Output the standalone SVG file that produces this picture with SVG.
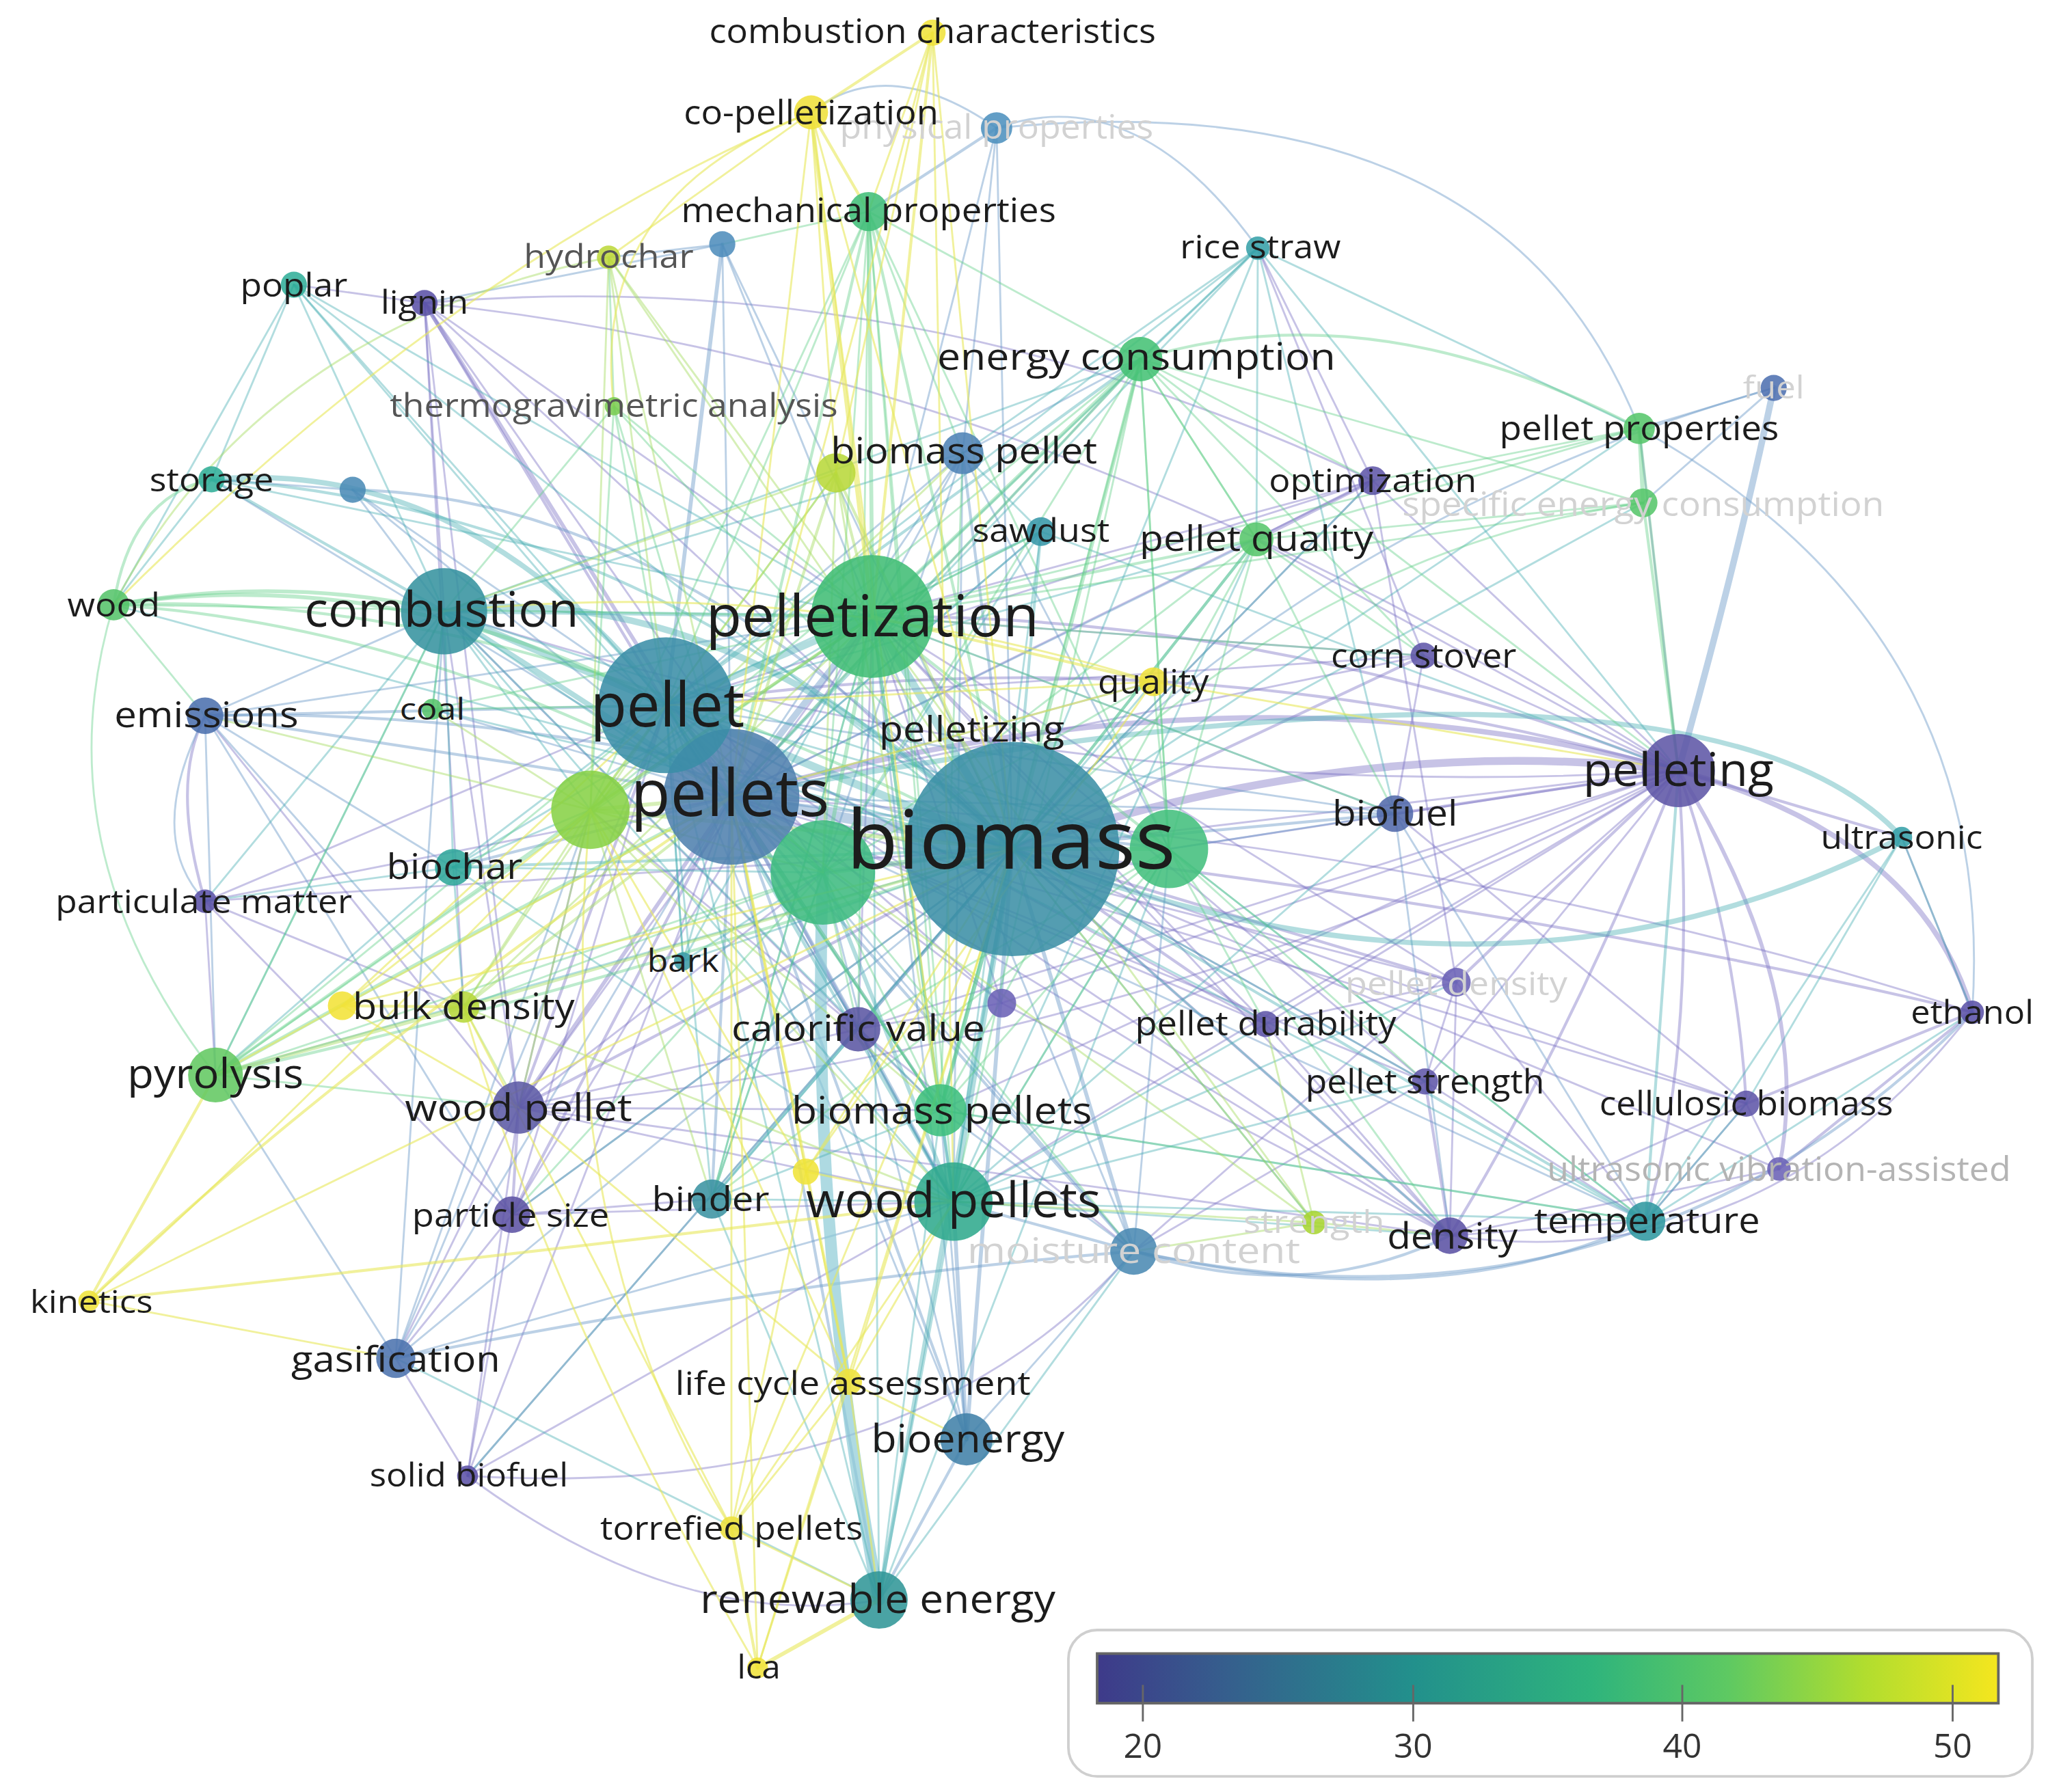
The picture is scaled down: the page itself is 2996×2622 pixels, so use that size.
<svg xmlns="http://www.w3.org/2000/svg" width="2996" height="2622" viewBox="0 0 2996 2622">
<defs>
<style>
text{font-family:"Open Sans","Noto Sans","DejaVu Sans",sans-serif;fill:#1c1c1c;text-anchor:middle}
.m{fill:#555}
.f{fill:#b4b4b4}
.ff{fill:#d2d2d2}
.lg{fill:#333;font-size:26px}
#edges line,#edges path{fill:none;stroke-linecap:round}
.p{stroke:#7a6fc4;stroke-opacity:.42}
.b{stroke:#6a98c8;stroke-opacity:.45}
.t{stroke:#48adb3;stroke-opacity:.42}
.g{stroke:#62cf88;stroke-opacity:.42}
.l{stroke:#a4dc60;stroke-opacity:.45}
.y{stroke:#e8e85a;stroke-opacity:.6}
.w2{stroke-width:2.2}.w3{stroke-width:3}.w4{stroke-width:4}.w5{stroke-width:5}.w6{stroke-width:6}.w7{stroke-width:9}.w8{stroke-width:8}
.pt{stroke:#8ccad6;stroke-opacity:.7}
#nodes circle{fill-opacity:.87}
</style>
<linearGradient id="vir" x1="0" y1="0" x2="1" y2="0">
<stop offset="0" stop-color="#3e3a8a"/>
<stop offset="0.15" stop-color="#35608d"/>
<stop offset="0.35" stop-color="#22908c"/>
<stop offset="0.55" stop-color="#2fb47c"/>
<stop offset="0.7" stop-color="#5ec962"/>
<stop offset="0.85" stop-color="#b0dd2f"/>
<stop offset="1" stop-color="#f5e61e"/>
</linearGradient>
</defs>
<rect width="2996" height="2622" fill="#ffffff"/>
<g transform="scale(1.91071 1.91108)">
<g id="edges" stroke-width="1.5">
<!-- purple -->
<path d="M1285 590Q1040 560 775 650" class="p w6"/>
<path d="M1285 590Q950 500 560 610" class="p w4"/>
<path d="M1285 590Q900 480 510 540" class="p w2"/>
<path d="M1285 590Q980 470 668 472" class="p w2"/>
<path d="M1285 590Q1470 640 1510 775" class="p w4"/>
<path d="M1285 590Q1390 760 1362 895" class="p w3"/>
<path d="M1285 590Q1330 720 1337 845" class="p w2"/>
<path d="M1285 590Q1300 800 1260 935" class="p w2"/>
<path d="M1285 590Q1200 800 1110 946" class="p w2"/>
<line x1="1285" y1="590" x2="1090" y2="502" class="p"/>
<line x1="1285" y1="590" x2="1068" y2="623" class="p w2"/>
<line x1="1285" y1="590" x2="1115" y2="752" class="p w2"/>
<line x1="1285" y1="590" x2="1091" y2="828" class="p"/>
<line x1="1285" y1="590" x2="969" y2="784" class="p"/>
<line x1="1285" y1="590" x2="1051" y2="368" class="p"/>
<line x1="1285" y1="590" x2="962" y2="413" class="p"/>
<line x1="1285" y1="590" x2="1255" y2="328" class="p"/>
<line x1="1285" y1="590" x2="895" y2="650" class="p"/>
<line x1="1285" y1="590" x2="630" y2="668" class="p"/>
<path d="M1285 590Q800 620 340 468" class="p"/>
<path d="M1285 590Q900 800 397 848" class="p"/>
<line x1="1285" y1="590" x2="868" y2="958" class="p"/>
<line x1="1285" y1="590" x2="730" y2="920" class="p"/>
<line x1="1285" y1="590" x2="720" y2="850" class="p"/>
<line x1="1285" y1="590" x2="767" y2="768" class="p"/>
<line x1="1285" y1="590" x2="1456" y2="641" class="p w2"/>
<line x1="1285" y1="590" x2="657" y2="788" class="p"/>
<path d="M325 232Q430 400 560 610" class="p w3"/>
<line x1="325" y1="232" x2="510" y2="540" class="p w2"/>
<line x1="325" y1="232" x2="775" y2="650" class="p"/>
<line x1="325" y1="232" x2="340" y2="468" class="p"/>
<line x1="325" y1="232" x2="668" y2="472" class="p"/>
<line x1="325" y1="232" x2="225" y2="218" class="p"/>
<line x1="325" y1="232" x2="397" y2="848" class="p"/>
<path d="M325 232Q700 200 1051 368" class="p"/>
<path d="M325 232Q800 280 1285 590" class="p"/>
<line x1="325" y1="232" x2="355" y2="771" class="p"/>
<line x1="325" y1="232" x2="630" y2="668" class="p"/>
<line x1="397" y1="848" x2="560" y2="610" class="p w3"/>
<line x1="397" y1="848" x2="775" y2="650" class="p w2"/>
<line x1="397" y1="848" x2="510" y2="540" class="p w2"/>
<line x1="397" y1="848" x2="730" y2="920" class="p"/>
<line x1="397" y1="848" x2="720" y2="850" class="p"/>
<line x1="397" y1="848" x2="392" y2="930" class="p w2"/>
<line x1="397" y1="848" x2="303" y2="1040" class="p"/>
<line x1="397" y1="848" x2="358" y2="1130" class="p"/>
<line x1="397" y1="848" x2="630" y2="668" class="p"/>
<line x1="397" y1="848" x2="340" y2="468" class="p"/>
<line x1="397" y1="848" x2="157" y2="548" class="p"/>
<line x1="397" y1="848" x2="1110" y2="946" class="p"/>
<line x1="397" y1="848" x2="452" y2="620" class="p"/>
<line x1="397" y1="848" x2="668" y2="472" class="p"/>
<line x1="397" y1="848" x2="657" y2="788" class="p"/>
<line x1="392" y1="930" x2="775" y2="650" class="p"/>
<line x1="392" y1="930" x2="560" y2="610" class="p w2"/>
<line x1="392" y1="930" x2="545" y2="918" class="p"/>
<line x1="392" y1="930" x2="730" y2="920" class="p"/>
<line x1="392" y1="930" x2="303" y2="1040" class="p"/>
<line x1="392" y1="930" x2="358" y2="1130" class="p"/>
<line x1="392" y1="930" x2="510" y2="540" class="p"/>
<line x1="392" y1="930" x2="157" y2="690" class="p"/>
<line x1="392" y1="930" x2="668" y2="472" class="p"/>
<line x1="358" y1="1130" x2="775" y2="650" class="p"/>
<line x1="358" y1="1130" x2="560" y2="610" class="p"/>
<line x1="358" y1="1130" x2="730" y2="920" class="p"/>
<line x1="358" y1="1130" x2="303" y2="1040" class="p"/>
<path d="M358 1130Q520 1250 673 1225" class="p"/>
<path d="M358 1130Q700 1150 868 958" class="p"/>
<line x1="157" y1="690" x2="560" y2="610" class="p"/>
<line x1="157" y1="690" x2="775" y2="650" class="p"/>
<path d="M157 690Q130 600 157 548" class="p w2"/>
<line x1="157" y1="690" x2="165" y2="823" class="p"/>
<line x1="157" y1="690" x2="355" y2="771" class="p"/>
<line x1="157" y1="690" x2="510" y2="540" class="p"/>
<line x1="657" y1="788" x2="775" y2="650" class="p w2"/>
<line x1="657" y1="788" x2="560" y2="610" class="p w2"/>
<line x1="657" y1="788" x2="510" y2="540" class="p"/>
<line x1="657" y1="788" x2="668" y2="472" class="p"/>
<line x1="657" y1="788" x2="720" y2="850" class="p"/>
<line x1="657" y1="788" x2="730" y2="920" class="p"/>
<line x1="657" y1="788" x2="767" y2="768" class="p"/>
<line x1="657" y1="788" x2="868" y2="958" class="p"/>
<line x1="657" y1="788" x2="452" y2="620" class="p"/>
<line x1="657" y1="788" x2="340" y2="468" class="p"/>
<line x1="767" y1="768" x2="560" y2="610" class="p"/>
<line x1="767" y1="768" x2="668" y2="472" class="p"/>
<line x1="767" y1="768" x2="1110" y2="946" class="p"/>
<line x1="767" y1="768" x2="510" y2="540" class="p"/>
<line x1="1110" y1="946" x2="775" y2="650" class="p w2"/>
<line x1="1110" y1="946" x2="560" y2="610" class="p"/>
<line x1="1110" y1="946" x2="510" y2="540" class="p"/>
<line x1="1110" y1="946" x2="1260" y2="935" class="p"/>
<line x1="1110" y1="946" x2="1091" y2="828" class="p w2"/>
<line x1="1110" y1="946" x2="1115" y2="752" class="p"/>
<line x1="1110" y1="946" x2="1337" y2="845" class="p"/>
<line x1="1110" y1="946" x2="1362" y2="895" class="p"/>
<line x1="1110" y1="946" x2="969" y2="784" class="p"/>
<line x1="1110" y1="946" x2="668" y2="472" class="p"/>
<path d="M1110 946Q1350 980 1510 775" class="p"/>
<line x1="1362" y1="895" x2="1337" y2="845" class="p"/>
<line x1="1362" y1="895" x2="1260" y2="935" class="p"/>
<line x1="1362" y1="895" x2="775" y2="650" class="p"/>
<line x1="1362" y1="895" x2="1510" y2="775" class="p w2"/>
<line x1="1337" y1="845" x2="775" y2="650" class="p"/>
<line x1="1337" y1="845" x2="1510" y2="775" class="p w2"/>
<line x1="1337" y1="845" x2="1068" y2="623" class="p"/>
<line x1="1337" y1="845" x2="1260" y2="935" class="p"/>
<line x1="1337" y1="845" x2="560" y2="610" class="p"/>
<path d="M1510 775Q1200 700 775 650" class="p w2"/>
<path d="M1510 775Q1100 640 560 610" class="p"/>
<line x1="1510" y1="775" x2="1456" y2="641" class="p"/>
<line x1="1090" y1="502" x2="775" y2="650" class="p w2"/>
<line x1="1090" y1="502" x2="668" y2="472" class="p"/>
<line x1="1090" y1="502" x2="560" y2="610" class="p"/>
<line x1="1090" y1="502" x2="1068" y2="623" class="p"/>
<line x1="1090" y1="502" x2="963" y2="190" class="p"/>
<line x1="1090" y1="502" x2="510" y2="540" class="p"/>
<line x1="1051" y1="368" x2="775" y2="650" class="p"/>
<line x1="1051" y1="368" x2="668" y2="472" class="p"/>
<line x1="1051" y1="368" x2="962" y2="413" class="p w3"/>
<line x1="1051" y1="368" x2="560" y2="610" class="p"/>
<line x1="1051" y1="368" x2="963" y2="190" class="p"/>
<line x1="1051" y1="368" x2="1115" y2="752" class="p"/>
<line x1="1051" y1="368" x2="510" y2="540" class="p"/>
<line x1="1115" y1="752" x2="775" y2="650" class="p w2"/>
<line x1="1115" y1="752" x2="560" y2="610" class="p"/>
<line x1="1115" y1="752" x2="1091" y2="828" class="p"/>
<line x1="1115" y1="752" x2="969" y2="784" class="p"/>
<line x1="1115" y1="752" x2="1260" y2="935" class="p"/>
<line x1="1115" y1="752" x2="668" y2="472" class="p"/>
<line x1="969" y1="784" x2="775" y2="650" class="p w2"/>
<line x1="969" y1="784" x2="560" y2="610" class="p"/>
<line x1="969" y1="784" x2="668" y2="472" class="p"/>
<line x1="969" y1="784" x2="510" y2="540" class="p"/>
<line x1="1091" y1="828" x2="775" y2="650" class="p"/>
<line x1="1091" y1="828" x2="560" y2="610" class="p"/>
<line x1="1091" y1="828" x2="1260" y2="935" class="p"/>
<line x1="1091" y1="828" x2="868" y2="958" class="p"/>
<line x1="1091" y1="828" x2="668" y2="472" class="p"/>
<!-- blue -->
<path d="M1358 297Q1330 430 1285 590" class="b w5"/>
<line x1="1358" y1="297" x2="1255" y2="328" class="b"/>
<line x1="1358" y1="297" x2="1258" y2="385" class="b"/>
<path d="M1358 297Q1000 400 775 650" class="b"/>
<path d="M1255 328Q1530 480 1510 775" class="b"/>
<line x1="560" y1="610" x2="775" y2="650" class="b w8"/>
<line x1="560" y1="610" x2="668" y2="472" class="b w5"/>
<line x1="560" y1="610" x2="730" y2="920" class="b w3"/>
<line x1="560" y1="610" x2="720" y2="850" class="b w2"/>
<line x1="560" y1="610" x2="157" y2="548" class="b w2"/>
<line x1="560" y1="610" x2="873" y2="275" class="b"/>
<line x1="560" y1="610" x2="895" y2="650" class="b w2"/>
<line x1="560" y1="610" x2="737" y2="347" class="b"/>
<line x1="560" y1="610" x2="303" y2="1040" class="b"/>
<line x1="560" y1="610" x2="868" y2="958" class="b w2"/>
<line x1="560" y1="610" x2="883" y2="522" class="b"/>
<line x1="560" y1="610" x2="962" y2="413" class="b"/>
<line x1="560" y1="610" x2="797" y2="407" class="b"/>
<line x1="560" y1="610" x2="1068" y2="623" class="b"/>
<line x1="560" y1="610" x2="673" y2="1225" class="b w2"/>
<line x1="560" y1="610" x2="740" y2="1102" class="b w2"/>
<line x1="560" y1="610" x2="545" y2="918" class="b w2"/>
<line x1="560" y1="610" x2="347" y2="664" class="b w2"/>
<line x1="560" y1="610" x2="331" y2="543" class="b"/>
<line x1="560" y1="610" x2="162" y2="367" class="b"/>
<line x1="560" y1="610" x2="1260" y2="935" class="b"/>
<line x1="157" y1="548" x2="510" y2="540" class="b w2"/>
<path d="M157 548Q460 540 775 650" class="b w2"/>
<line x1="157" y1="548" x2="340" y2="468" class="b"/>
<line x1="157" y1="548" x2="165" y2="823" class="b"/>
<line x1="157" y1="548" x2="347" y2="664" class="b"/>
<line x1="157" y1="548" x2="355" y2="771" class="b"/>
<line x1="157" y1="548" x2="392" y2="930" class="b"/>
<line x1="157" y1="548" x2="668" y2="472" class="b"/>
<path d="M157 548Q110 640 157 690" class="b"/>
<line x1="303" y1="1040" x2="775" y2="650" class="b"/>
<line x1="303" y1="1040" x2="510" y2="540" class="b"/>
<line x1="303" y1="1040" x2="730" y2="920" class="b"/>
<line x1="303" y1="1040" x2="165" y2="823" class="b"/>
<path d="M303 1040Q600 980 868 958" class="b w2"/>
<line x1="303" y1="1040" x2="340" y2="468" class="b"/>
<line x1="303" y1="1040" x2="452" y2="620" class="b"/>
<line x1="737" y1="347" x2="775" y2="650" class="b w2"/>
<line x1="737" y1="347" x2="668" y2="472" class="b"/>
<line x1="737" y1="347" x2="510" y2="540" class="b"/>
<line x1="737" y1="347" x2="873" y2="275" class="b"/>
<line x1="737" y1="347" x2="630" y2="668" class="b"/>
<line x1="737" y1="347" x2="895" y2="650" class="b"/>
<line x1="737" y1="347" x2="730" y2="920" class="b"/>
<line x1="553" y1="187" x2="510" y2="540" class="b w3"/>
<line x1="553" y1="187" x2="775" y2="650" class="b"/>
<line x1="553" y1="187" x2="668" y2="472" class="b"/>
<line x1="553" y1="187" x2="466" y2="197" class="b"/>
<line x1="553" y1="187" x2="325" y2="232" class="b"/>
<line x1="553" y1="187" x2="560" y2="610" class="b"/>
<line x1="270" y1="375" x2="510" y2="540" class="b"/>
<path d="M270 375Q520 380 775 650" class="b w2"/>
<line x1="270" y1="375" x2="340" y2="468" class="b"/>
<line x1="270" y1="375" x2="162" y2="367" class="b"/>
<line x1="270" y1="375" x2="560" y2="610" class="b"/>
<line x1="763" y1="98" x2="668" y2="472" class="b"/>
<line x1="763" y1="98" x2="665" y2="162" class="b w2"/>
<path d="M763 98Q870 60 963 190" class="b"/>
<line x1="763" y1="98" x2="775" y2="650" class="b"/>
<line x1="763" y1="98" x2="737" y2="347" class="b"/>
<path d="M763 98Q1150 60 1255 328" class="b"/>
<path d="M763 98Q680 40 621 86" class="b"/>
<line x1="868" y1="958" x2="775" y2="650" class="b w3"/>
<line x1="868" y1="958" x2="730" y2="920" class="b w2"/>
<line x1="868" y1="958" x2="668" y2="472" class="b"/>
<line x1="868" y1="958" x2="510" y2="540" class="b"/>
<path d="M868 958Q1000 1000 1110 946" class="b w2"/>
<path d="M868 958Q1100 1010 1260 935" class="b w2"/>
<path d="M868 958Q1250 1040 1510 775" class="b w2"/>
<line x1="868" y1="958" x2="895" y2="650" class="b"/>
<line x1="868" y1="958" x2="720" y2="850" class="b"/>
<line x1="740" y1="1102" x2="775" y2="650" class="b w3"/>
<line x1="740" y1="1102" x2="730" y2="920" class="b w3"/>
<line x1="740" y1="1102" x2="668" y2="472" class="b"/>
<line x1="740" y1="1102" x2="720" y2="850" class="b"/>
<line x1="740" y1="1102" x2="673" y2="1225" class="b w2"/>
<line x1="740" y1="1102" x2="630" y2="668" class="b"/>
<line x1="740" y1="1102" x2="868" y2="958" class="b"/>
<line x1="740" y1="1102" x2="510" y2="540" class="b"/>
<line x1="1068" y1="623" x2="775" y2="650" class="b w2"/>
<line x1="1068" y1="623" x2="668" y2="472" class="b"/>
<line x1="1068" y1="623" x2="1110" y2="946" class="b"/>
<line x1="1068" y1="623" x2="1260" y2="935" class="b"/>
<line x1="1068" y1="623" x2="895" y2="650" class="b"/>
<line x1="1068" y1="623" x2="510" y2="540" class="b"/>
<!-- teal -->
<path d="M775 650Q1150 800 1456 641" class="t w4"/>
<path d="M560 610Q1300 470 1456 641" class="t w4"/>
<path d="M673 1225Q620 950 630 668" class="pt w7"/>
<line x1="775" y1="650" x2="668" y2="472" class="t w6"/>
<line x1="775" y1="650" x2="510" y2="540" class="t w6"/>
<line x1="775" y1="650" x2="730" y2="920" class="t w4"/>
<line x1="775" y1="650" x2="720" y2="850" class="t w3"/>
<line x1="775" y1="650" x2="962" y2="413" class="t w2"/>
<line x1="775" y1="650" x2="883" y2="522" class="t"/>
<line x1="775" y1="650" x2="1260" y2="935" class="t w2"/>
<line x1="775" y1="650" x2="673" y2="1225" class="t w3"/>
<line x1="775" y1="650" x2="545" y2="918" class="t w2"/>
<line x1="775" y1="650" x2="347" y2="664" class="t w2"/>
<line x1="775" y1="650" x2="963" y2="190" class="t"/>
<line x1="775" y1="650" x2="523" y2="736" class="t"/>
<line x1="775" y1="650" x2="797" y2="407" class="t w2"/>
<line x1="775" y1="650" x2="87" y2="463" class="t"/>
<path d="M775 650Q500 390 162 367" class="t w2"/>
<line x1="775" y1="650" x2="225" y2="218" class="t"/>
<line x1="775" y1="650" x2="331" y2="543" class="t"/>
<line x1="775" y1="650" x2="165" y2="823" class="t"/>
<line x1="775" y1="650" x2="1006" y2="936" class="t"/>
<line x1="775" y1="650" x2="1255" y2="328" class="t"/>
<line x1="775" y1="650" x2="1258" y2="385" class="t"/>
<line x1="775" y1="650" x2="1051" y2="368" class="t"/>
<line x1="775" y1="650" x2="392" y2="930" class="t"/>
<line x1="775" y1="650" x2="358" y2="1130" class="t"/>
<line x1="775" y1="650" x2="1091" y2="828" class="t"/>
<line x1="775" y1="650" x2="1110" y2="946" class="t"/>
<line x1="510" y1="540" x2="668" y2="472" class="t w5"/>
<line x1="510" y1="540" x2="340" y2="468" class="t w5"/>
<path d="M162 367Q360 350 510 540" class="t w4"/>
<line x1="510" y1="540" x2="873" y2="275" class="t w2"/>
<line x1="510" y1="540" x2="730" y2="920" class="t w2"/>
<line x1="510" y1="540" x2="963" y2="190" class="t"/>
<line x1="510" y1="540" x2="962" y2="413" class="t"/>
<line x1="510" y1="540" x2="225" y2="218" class="t"/>
<line x1="510" y1="540" x2="347" y2="664" class="t"/>
<line x1="510" y1="540" x2="545" y2="918" class="t"/>
<line x1="510" y1="540" x2="673" y2="1225" class="t"/>
<line x1="510" y1="540" x2="523" y2="736" class="t"/>
<line x1="510" y1="540" x2="797" y2="407" class="t"/>
<line x1="510" y1="540" x2="895" y2="650" class="t"/>
<line x1="510" y1="540" x2="1260" y2="935" class="t"/>
<line x1="510" y1="540" x2="720" y2="850" class="t"/>
<line x1="510" y1="540" x2="657" y2="788" class="t"/>
<path d="M340 468Q560 440 775 650" class="t w5"/>
<line x1="340" y1="468" x2="560" y2="610" class="t w4"/>
<line x1="340" y1="468" x2="668" y2="472" class="t w3"/>
<line x1="340" y1="468" x2="347" y2="664" class="t"/>
<line x1="340" y1="468" x2="165" y2="823" class="t"/>
<line x1="340" y1="468" x2="331" y2="543" class="t"/>
<line x1="340" y1="468" x2="452" y2="620" class="t"/>
<line x1="340" y1="468" x2="630" y2="668" class="t"/>
<line x1="340" y1="468" x2="895" y2="650" class="t"/>
<line x1="340" y1="468" x2="730" y2="920" class="t"/>
<line x1="340" y1="468" x2="157" y2="690" class="t"/>
<line x1="340" y1="468" x2="873" y2="275" class="t"/>
<line x1="340" y1="468" x2="162" y2="367" class="t w2"/>
<line x1="340" y1="468" x2="225" y2="218" class="t"/>
<line x1="340" y1="468" x2="737" y2="347" class="t"/>
<line x1="340" y1="468" x2="720" y2="850" class="t"/>
<line x1="730" y1="920" x2="668" y2="472" class="t w2"/>
<line x1="730" y1="920" x2="720" y2="850" class="t w2"/>
<line x1="730" y1="920" x2="630" y2="668" class="t w3"/>
<line x1="730" y1="920" x2="895" y2="650" class="t"/>
<line x1="730" y1="920" x2="657" y2="788" class="t"/>
<line x1="730" y1="920" x2="545" y2="918" class="t"/>
<line x1="730" y1="920" x2="1260" y2="935" class="t"/>
<line x1="730" y1="920" x2="1110" y2="946" class="t"/>
<line x1="730" y1="920" x2="962" y2="413" class="t"/>
<line x1="730" y1="920" x2="1068" y2="623" class="t"/>
<line x1="730" y1="920" x2="969" y2="784" class="t"/>
<line x1="730" y1="920" x2="1091" y2="828" class="t"/>
<line x1="730" y1="920" x2="1115" y2="752" class="t"/>
<line x1="673" y1="1225" x2="730" y2="920" class="t w2"/>
<line x1="673" y1="1225" x2="720" y2="850" class="t"/>
<line x1="673" y1="1225" x2="545" y2="918" class="t"/>
<line x1="673" y1="1225" x2="668" y2="472" class="t"/>
<line x1="673" y1="1225" x2="895" y2="650" class="t"/>
<line x1="673" y1="1225" x2="303" y2="1040" class="t"/>
<line x1="673" y1="1225" x2="868" y2="958" class="t"/>
<line x1="545" y1="918" x2="720" y2="850" class="t"/>
<line x1="545" y1="918" x2="657" y2="788" class="t"/>
<line x1="545" y1="918" x2="630" y2="668" class="t"/>
<line x1="545" y1="918" x2="668" y2="472" class="t"/>
<line x1="162" y1="367" x2="87" y2="463" class="t"/>
<line x1="162" y1="367" x2="225" y2="218" class="t"/>
<line x1="162" y1="367" x2="668" y2="472" class="t"/>
<line x1="225" y1="218" x2="560" y2="610" class="t"/>
<line x1="225" y1="218" x2="87" y2="463" class="t"/>
<line x1="225" y1="218" x2="668" y2="472" class="t"/>
<line x1="347" y1="664" x2="165" y2="823" class="t"/>
<line x1="347" y1="664" x2="157" y2="690" class="t"/>
<line x1="347" y1="664" x2="355" y2="771" class="t"/>
<line x1="347" y1="664" x2="730" y2="920" class="t"/>
<line x1="347" y1="664" x2="452" y2="620" class="t"/>
<line x1="347" y1="664" x2="630" y2="668" class="t"/>
<line x1="347" y1="664" x2="668" y2="472" class="t"/>
<line x1="963" y1="190" x2="873" y2="275" class="t"/>
<line x1="963" y1="190" x2="668" y2="472" class="t"/>
<line x1="963" y1="190" x2="1285" y2="590" class="t"/>
<line x1="963" y1="190" x2="560" y2="610" class="t"/>
<line x1="963" y1="190" x2="962" y2="413" class="t"/>
<line x1="963" y1="190" x2="1068" y2="623" class="t"/>
<line x1="963" y1="190" x2="1255" y2="328" class="t"/>
<line x1="963" y1="190" x2="737" y2="347" class="t"/>
<line x1="797" y1="407" x2="668" y2="472" class="t"/>
<line x1="797" y1="407" x2="560" y2="610" class="t"/>
<line x1="797" y1="407" x2="737" y2="347" class="t"/>
<line x1="797" y1="407" x2="1285" y2="590" class="t"/>
<line x1="797" y1="407" x2="630" y2="668" class="t"/>
<line x1="797" y1="407" x2="730" y2="920" class="t"/>
<line x1="1260" y1="935" x2="1285" y2="590" class="t w2"/>
<line x1="1260" y1="935" x2="1337" y2="845" class="t"/>
<line x1="1260" y1="935" x2="1510" y2="775" class="t"/>
<line x1="1260" y1="935" x2="895" y2="650" class="t"/>
<line x1="1260" y1="935" x2="720" y2="850" class="t"/>
<line x1="1456" y1="641" x2="1510" y2="775" class="t"/>
<line x1="1456" y1="641" x2="1337" y2="845" class="t"/>
<line x1="1456" y1="641" x2="1260" y2="935" class="t"/>
<line x1="523" y1="736" x2="560" y2="610" class="t"/>
<line x1="523" y1="736" x2="630" y2="668" class="t"/>
<line x1="523" y1="736" x2="510" y2="540" class="t"/>
<line x1="523" y1="736" x2="668" y2="472" class="t"/>
<!-- green -->
<line x1="668" y1="472" x2="630" y2="668" class="g w3"/>
<line x1="668" y1="472" x2="895" y2="650" class="g w2"/>
<line x1="668" y1="472" x2="720" y2="850" class="g w2"/>
<line x1="668" y1="472" x2="873" y2="275" class="g w3"/>
<line x1="668" y1="472" x2="665" y2="162" class="g w3"/>
<line x1="668" y1="472" x2="962" y2="413" class="g w2"/>
<line x1="668" y1="472" x2="452" y2="620" class="g w2"/>
<line x1="668" y1="472" x2="1255" y2="328" class="g"/>
<line x1="668" y1="472" x2="1258" y2="385" class="g"/>
<line x1="668" y1="472" x2="470" y2="311" class="g"/>
<line x1="668" y1="472" x2="87" y2="463" class="g"/>
<line x1="668" y1="472" x2="331" y2="543" class="g"/>
<line x1="668" y1="472" x2="797" y2="407" class="g"/>
<line x1="668" y1="472" x2="1068" y2="623" class="g"/>
<line x1="668" y1="472" x2="1090" y2="502" class="g"/>
<line x1="668" y1="472" x2="545" y2="918" class="g"/>
<line x1="873" y1="275" x2="775" y2="650" class="g w3"/>
<line x1="873" y1="275" x2="560" y2="610" class="g w2"/>
<line x1="873" y1="275" x2="630" y2="668" class="g"/>
<line x1="873" y1="275" x2="895" y2="650" class="g"/>
<line x1="873" y1="275" x2="1285" y2="590" class="g"/>
<line x1="873" y1="275" x2="962" y2="413" class="g"/>
<path d="M873 275Q1050 220 1255 328" class="g w2"/>
<line x1="873" y1="275" x2="665" y2="162" class="g"/>
<line x1="873" y1="275" x2="730" y2="920" class="g"/>
<line x1="873" y1="275" x2="720" y2="850" class="g"/>
<line x1="873" y1="275" x2="1258" y2="385" class="g"/>
<line x1="873" y1="275" x2="1051" y2="368" class="g"/>
<line x1="873" y1="275" x2="1090" y2="502" class="g"/>
<line x1="873" y1="275" x2="452" y2="620" class="g"/>
<line x1="665" y1="162" x2="775" y2="650" class="g w2"/>
<line x1="665" y1="162" x2="560" y2="610" class="g w2"/>
<line x1="665" y1="162" x2="510" y2="540" class="g"/>
<line x1="665" y1="162" x2="737" y2="347" class="g"/>
<line x1="665" y1="162" x2="452" y2="620" class="g"/>
<line x1="665" y1="162" x2="630" y2="668" class="g"/>
<line x1="665" y1="162" x2="895" y2="650" class="g"/>
<line x1="665" y1="162" x2="553" y2="187" class="g"/>
<line x1="665" y1="162" x2="720" y2="850" class="g"/>
<line x1="665" y1="162" x2="730" y2="920" class="g"/>
<line x1="665" y1="162" x2="657" y2="788" class="g"/>
<line x1="1255" y1="328" x2="1258" y2="385" class="g w3"/>
<line x1="1255" y1="328" x2="962" y2="413" class="g"/>
<line x1="1255" y1="328" x2="1285" y2="590" class="g w2"/>
<line x1="1255" y1="328" x2="1051" y2="368" class="g"/>
<path d="M1258 385Q1000 420 775 650" class="g"/>
<line x1="1258" y1="385" x2="1285" y2="590" class="g w2"/>
<line x1="1258" y1="385" x2="962" y2="413" class="g"/>
<line x1="962" y1="413" x2="775" y2="650" class="g w2"/>
<line x1="962" y1="413" x2="630" y2="668" class="g"/>
<line x1="962" y1="413" x2="873" y2="275" class="g"/>
<line x1="962" y1="413" x2="1068" y2="623" class="g"/>
<line x1="962" y1="413" x2="1090" y2="502" class="g"/>
<line x1="962" y1="413" x2="720" y2="850" class="g"/>
<line x1="895" y1="650" x2="775" y2="650" class="g w3"/>
<line x1="895" y1="650" x2="730" y2="920" class="g"/>
<line x1="895" y1="650" x2="1260" y2="935" class="g"/>
<line x1="895" y1="650" x2="1110" y2="946" class="g"/>
<line x1="895" y1="650" x2="873" y2="275" class="g"/>
<line x1="895" y1="650" x2="962" y2="413" class="g"/>
<line x1="895" y1="650" x2="883" y2="522" class="g"/>
<line x1="895" y1="650" x2="545" y2="918" class="g"/>
<line x1="895" y1="650" x2="720" y2="850" class="g"/>
<line x1="895" y1="650" x2="657" y2="788" class="g"/>
<line x1="895" y1="650" x2="1091" y2="828" class="g"/>
<line x1="895" y1="650" x2="969" y2="784" class="g"/>
<line x1="630" y1="668" x2="775" y2="650" class="g w4"/>
<line x1="630" y1="668" x2="560" y2="610" class="g w3"/>
<line x1="630" y1="668" x2="510" y2="540" class="g w2"/>
<line x1="630" y1="668" x2="720" y2="850" class="g"/>
<line x1="630" y1="668" x2="657" y2="788" class="g"/>
<line x1="630" y1="668" x2="545" y2="918" class="g"/>
<line x1="630" y1="668" x2="883" y2="522" class="g"/>
<line x1="630" y1="668" x2="868" y2="958" class="g"/>
<line x1="630" y1="668" x2="392" y2="930" class="g"/>
<line x1="630" y1="668" x2="355" y2="771" class="g"/>
<line x1="720" y1="850" x2="775" y2="650" class="g w3"/>
<line x1="720" y1="850" x2="560" y2="610" class="g w2"/>
<line x1="720" y1="850" x2="510" y2="540" class="g"/>
<line x1="720" y1="850" x2="737" y2="347" class="g"/>
<line x1="720" y1="850" x2="1260" y2="935" class="g"/>
<path d="M165 823Q350 720 560 610" class="g w3"/>
<path d="M165 823Q450 760 775 650" class="g w2"/>
<line x1="165" y1="823" x2="510" y2="540" class="g"/>
<line x1="165" y1="823" x2="452" y2="620" class="g w2"/>
<line x1="165" y1="823" x2="340" y2="468" class="g"/>
<line x1="165" y1="823" x2="397" y2="848" class="g"/>
<line x1="165" y1="823" x2="630" y2="668" class="g"/>
<line x1="165" y1="823" x2="668" y2="472" class="g"/>
<path d="M87 463Q220 440 340 468" class="g w3"/>
<path d="M87 463Q300 430 510 540" class="g w3"/>
<path d="M87 463Q330 480 560 610" class="g w2"/>
<path d="M87 463Q400 450 775 650" class="g w2"/>
<line x1="87" y1="463" x2="157" y2="548" class="g"/>
<path d="M87 463Q30 650 165 823" class="g"/>
<path d="M87 463Q100 380 162 367" class="g w2"/>
<line x1="331" y1="543" x2="510" y2="540" class="g"/>
<line x1="331" y1="543" x2="340" y2="468" class="g"/>
<line x1="470" y1="311" x2="510" y2="540" class="g"/>
<line x1="470" y1="311" x2="560" y2="610" class="g"/>
<line x1="470" y1="311" x2="775" y2="650" class="g"/>
<line x1="470" y1="311" x2="340" y2="468" class="g"/>
<line x1="470" y1="311" x2="452" y2="620" class="g"/>
<line x1="470" y1="311" x2="466" y2="197" class="g"/>
<!-- light green -->
<line x1="452" y1="620" x2="775" y2="650" class="l w3"/>
<line x1="452" y1="620" x2="560" y2="610" class="l w3"/>
<line x1="452" y1="620" x2="510" y2="540" class="l w2"/>
<line x1="452" y1="620" x2="668" y2="472" class="l w2"/>
<line x1="452" y1="620" x2="630" y2="668" class="l"/>
<line x1="452" y1="620" x2="730" y2="920" class="l"/>
<line x1="452" y1="620" x2="720" y2="850" class="l"/>
<line x1="452" y1="620" x2="545" y2="918" class="l"/>
<line x1="452" y1="620" x2="737" y2="347" class="l"/>
<line x1="452" y1="620" x2="157" y2="548" class="l"/>
<line x1="452" y1="620" x2="331" y2="543" class="l"/>
<line x1="452" y1="620" x2="397" y2="848" class="l"/>
<line x1="355" y1="771" x2="560" y2="610" class="l w2"/>
<line x1="355" y1="771" x2="775" y2="650" class="l w2"/>
<line x1="355" y1="771" x2="510" y2="540" class="l"/>
<line x1="355" y1="771" x2="452" y2="620" class="l"/>
<path d="M355 771Q250 800 165 823" class="l w3"/>
<line x1="355" y1="771" x2="397" y2="848" class="l"/>
<line x1="355" y1="771" x2="730" y2="920" class="l"/>
<line x1="355" y1="771" x2="668" y2="472" class="l"/>
<line x1="1006" y1="936" x2="775" y2="650" class="l"/>
<line x1="1006" y1="936" x2="668" y2="472" class="l"/>
<line x1="1006" y1="936" x2="1110" y2="946" class="l"/>
<line x1="1006" y1="936" x2="969" y2="784" class="l"/>
<line x1="1006" y1="936" x2="560" y2="610" class="l"/>
<line x1="1006" y1="936" x2="868" y2="958" class="l"/>
<line x1="1006" y1="936" x2="730" y2="920" class="l"/>
<line x1="640" y1="362" x2="668" y2="472" class="l w2"/>
<line x1="640" y1="362" x2="775" y2="650" class="l w2"/>
<line x1="640" y1="362" x2="560" y2="610" class="l w2"/>
<line x1="640" y1="362" x2="510" y2="540" class="l"/>
<line x1="640" y1="362" x2="452" y2="620" class="l"/>
<line x1="640" y1="362" x2="340" y2="468" class="l"/>
<line x1="640" y1="362" x2="630" y2="668" class="l"/>
<line x1="640" y1="362" x2="720" y2="850" class="l"/>
<line x1="466" y1="197" x2="668" y2="472" class="l"/>
<line x1="466" y1="197" x2="560" y2="610" class="l"/>
<line x1="466" y1="197" x2="510" y2="540" class="l"/>
<line x1="466" y1="197" x2="775" y2="650" class="l"/>
<line x1="466" y1="197" x2="452" y2="620" class="l"/>
<path d="M466 197Q200 250 87 463" class="l"/>
<!-- yellow -->
<line x1="466" y1="197" x2="621" y2="86" class="y"/>
<line x1="714" y1="25" x2="668" y2="472" class="y w2"/>
<line x1="714" y1="25" x2="665" y2="162" class="y"/>
<line x1="714" y1="25" x2="621" y2="86" class="y w2"/>
<line x1="714" y1="25" x2="560" y2="610" class="y"/>
<line x1="714" y1="25" x2="775" y2="650" class="y"/>
<line x1="714" y1="25" x2="640" y2="362" class="y"/>
<line x1="714" y1="25" x2="730" y2="920" class="y"/>
<line x1="621" y1="86" x2="665" y2="162" class="y w2"/>
<line x1="621" y1="86" x2="668" y2="472" class="y w3"/>
<line x1="621" y1="86" x2="560" y2="610" class="y"/>
<line x1="621" y1="86" x2="775" y2="650" class="y"/>
<line x1="621" y1="86" x2="640" y2="362" class="y"/>
<line x1="621" y1="86" x2="720" y2="850" class="y"/>
<path d="M621 86Q450 150 470 311" class="y"/>
<path d="M621 86Q350 200 87 463" class="y"/>
<line x1="883" y1="522" x2="668" y2="472" class="y w2"/>
<line x1="883" y1="522" x2="560" y2="610" class="y"/>
<line x1="883" y1="522" x2="1285" y2="590" class="y"/>
<line x1="883" y1="522" x2="510" y2="540" class="y"/>
<line x1="883" y1="522" x2="617" y2="897" class="y"/>
<path d="M883 522Q620 440 340 468" class="y"/>
<line x1="68" y1="996" x2="165" y2="823" class="y w2"/>
<path d="M68 996Q250 820 560 610" class="y w2"/>
<path d="M68 996Q200 880 452 620" class="y"/>
<path d="M68 996Q400 960 730 920" class="y w2"/>
<line x1="68" y1="996" x2="303" y2="1040" class="y"/>
<line x1="68" y1="996" x2="775" y2="650" class="y"/>
<line x1="262" y1="770" x2="560" y2="610" class="y"/>
<line x1="262" y1="770" x2="775" y2="650" class="y"/>
<line x1="262" y1="770" x2="452" y2="620" class="y"/>
<line x1="262" y1="770" x2="165" y2="823" class="y"/>
<line x1="262" y1="770" x2="397" y2="848" class="y"/>
<line x1="262" y1="770" x2="355" y2="771" class="y w2"/>
<line x1="262" y1="770" x2="510" y2="540" class="y"/>
<line x1="617" y1="897" x2="775" y2="650" class="y"/>
<line x1="617" y1="897" x2="560" y2="610" class="y"/>
<line x1="617" y1="897" x2="730" y2="920" class="y"/>
<line x1="617" y1="897" x2="650" y2="1058" class="y"/>
<line x1="617" y1="897" x2="560" y2="1170" class="y"/>
<line x1="617" y1="897" x2="452" y2="620" class="y"/>
<line x1="650" y1="1058" x2="775" y2="650" class="y"/>
<line x1="650" y1="1058" x2="560" y2="610" class="y w2"/>
<line x1="650" y1="1058" x2="730" y2="920" class="y"/>
<line x1="650" y1="1058" x2="673" y2="1225" class="y"/>
<line x1="650" y1="1058" x2="580" y2="1277" class="y"/>
<line x1="650" y1="1058" x2="560" y2="1170" class="y"/>
<line x1="650" y1="1058" x2="740" y2="1102" class="y"/>
<line x1="650" y1="1058" x2="452" y2="620" class="y"/>
<line x1="650" y1="1058" x2="397" y2="848" class="y"/>
<line x1="560" y1="1170" x2="560" y2="610" class="y"/>
<line x1="560" y1="1170" x2="775" y2="650" class="y"/>
<line x1="560" y1="1170" x2="580" y2="1277" class="y w2"/>
<line x1="560" y1="1170" x2="673" y2="1225" class="y"/>
<line x1="560" y1="1170" x2="730" y2="920" class="y"/>
<path d="M560 1170Q420 950 452 620" class="y"/>
<line x1="560" y1="1170" x2="355" y2="771" class="y"/>
<line x1="580" y1="1277" x2="673" y2="1225" class="y w3"/>
<line x1="580" y1="1277" x2="775" y2="650" class="y"/>
<line x1="580" y1="1277" x2="560" y2="610" class="y"/>
<path d="M580 1277Q420 1000 355 771" class="y"/>
</g>
<g id="nodes">
<g id="node-biomass"><circle cx="775" cy="650" r="82" fill="#3b8fa5"/></g>
<g id="node-pellets"><circle cx="560" cy="610" r="52" fill="#4e80ad"/></g>
<g id="node-pellet"><circle cx="510" cy="540" r="52" fill="#3a8da6"/></g>
<g id="node-pelletization"><circle cx="668" cy="472" r="47" fill="#3fbc74"/></g>
<g id="node-green-under"><circle cx="630" cy="668" r="40" fill="#3dba80"/></g>
<g id="node-combustion"><circle cx="340" cy="468" r="33" fill="#35929f"/></g>
<g id="node-green-right"><circle cx="895" cy="650" r="30" fill="#42bf7c"/></g>
<g id="node-yg-left"><circle cx="452" cy="620" r="30" fill="#86d145"/></g>
<g id="node-wood-pellets"><circle cx="730" cy="920" r="30" fill="#2ea98c"/></g>
<g id="node-pelleting"><circle cx="1285" cy="590" r="28" fill="#5d55a5"/></g>
<g id="node-renewable-energy"><circle cx="673" cy="1225" r="22" fill="#2f9597"/></g>
<g id="node-pyrolysis"><circle cx="165" cy="823" r="21" fill="#62c860"/></g>
<g id="node-wood-pellet"><circle cx="397" cy="848" r="20" fill="#5b58a4"/></g>
<g id="node-biomass-pellets"><circle cx="720" cy="850" r="20" fill="#3cbf7c"/></g>
<g id="node-bioenergy"><circle cx="740" cy="1102" r="20" fill="#3f80a8"/></g>
<g id="node-moisture-content"><circle cx="868" cy="958" r="18" fill="#4a89b2"/></g>
<g id="node-energy-consumption"><circle cx="873" cy="275" r="17" fill="#44c174"/></g>
<g id="node-calorific-value"><circle cx="657" cy="788" r="17" fill="#5a55a2"/></g>
<g id="node-biomass-pellet"><circle cx="737" cy="347" r="16" fill="#4d82b5"/></g>
<g id="node-yg-mid"><circle cx="640" cy="362" r="15" fill="#b8d838"/></g>
<g id="node-mechanical-properties"><circle cx="665" cy="162" r="15" fill="#3fbd78"/></g>
<g id="node-gasification"><circle cx="303" cy="1040" r="15" fill="#4b72ae"/></g>
<g id="node-temperature"><circle cx="1260" cy="935" r="15" fill="#2e98a0"/></g>
<g id="node-binder"><circle cx="545" cy="918" r="15" fill="#3a92a1"/></g>
<g id="node-density"><circle cx="1110" cy="946" r="14" fill="#5a50a3"/></g>
<g id="node-particle-size"><circle cx="392" cy="930" r="14" fill="#5c52a3"/></g>
<g id="node-emissions"><circle cx="157" cy="548" r="14" fill="#4b6fae"/></g>
<g id="node-biochar"><circle cx="347" cy="664" r="14" fill="#2ea79a"/></g>
<g id="node-biofuel"><circle cx="1068" cy="623" r="14" fill="#5068aa"/></g>
<g id="node-co-pelletization"><circle cx="621" cy="86" r="13" fill="#efe03a"/></g>
<g id="node-pellet-quality"><circle cx="962" cy="413" r="13" fill="#55c66a"/></g>
<g id="node-bulk-density"><circle cx="355" cy="771" r="12" fill="#b5d73a"/></g>
<g id="node-wood"><circle cx="87" cy="463" r="12" fill="#55c36a"/></g>
<g id="node-physical-properties"><circle cx="763" cy="98" r="12" fill="#4c90bd"/></g>
<g id="node-pellet-properties"><circle cx="1255" cy="328" r="12" fill="#55c66a"/></g>
<g id="node-yellow-left"><circle cx="262" cy="770" r="11" fill="#f2e236"/></g>
<g id="node-specific-energy-consumption"><circle cx="1258" cy="385" r="11" fill="#55c66a"/></g>
<g id="node-optimization"><circle cx="1051" cy="368" r="11" fill="#5e55a8"/></g>
<g id="node-sawdust"><circle cx="797" cy="407" r="11" fill="#3597a8"/></g>
<g id="node-quality"><circle cx="883" cy="522" r="11" fill="#efe03a"/></g>
<g id="node-pellet-density"><circle cx="1115" cy="752" r="11" fill="#6a60b5"/></g>
<g id="node-purple-mid"><circle cx="767" cy="768" r="11" fill="#6a60b5"/></g>
<g id="node-yellow-mid"><circle cx="617" cy="897" r="10" fill="#f0e438"/></g>
<g id="node-life-cycle-assessment"><circle cx="650" cy="1058" r="10" fill="#eee13c"/></g>
<g id="node-storage"><circle cx="162" cy="367" r="10" fill="#2fae98"/></g>
<g id="node-blue-left"><circle cx="270" cy="375" r="10" fill="#4a8ab6"/></g>
<g id="node-poplar"><circle cx="225" cy="218" r="10" fill="#2fae98"/></g>
<g id="node-lignin"><circle cx="325" cy="232" r="10" fill="#5a50a6"/></g>
<g id="node-blue-top"><circle cx="553" cy="187" r="10" fill="#4d8cbb"/></g>
<g id="node-combustion-characteristics"><circle cx="714" cy="25" r="10" fill="#f0e23a"/></g>
<g id="node-fuel"><circle cx="1358" cy="297" r="10" fill="#4d6fb0"/></g>
<g id="node-corn-stover"><circle cx="1090" cy="502" r="10" fill="#5e55a8"/></g>
<g id="node-pellet-durability"><circle cx="969" cy="784" r="10" fill="#5e55a8"/></g>
<g id="node-pellet-strength"><circle cx="1091" cy="828" r="10" fill="#5e55a8"/></g>
<g id="node-cellulosic-biomass"><circle cx="1337" cy="845" r="10" fill="#5e55a8"/></g>
<g id="node-rice-straw"><circle cx="963" cy="190" r="9" fill="#35a0a8"/></g>
<g id="node-hydrochar"><circle cx="466" cy="197" r="9" fill="#bcd83a"/></g>
<g id="node-strength"><circle cx="1006" cy="936" r="9" fill="#a8d530"/></g>
<g id="node-torrefied-pellets"><circle cx="560" cy="1170" r="9" fill="#ede03c"/></g>
<g id="node-ethanol"><circle cx="1510" cy="775" r="9" fill="#5a50a6"/></g>
<g id="node-pm"><circle cx="157" cy="690" r="9" fill="#5a50a6"/></g>
<g id="node-uva"><circle cx="1362" cy="895" r="9" fill="#6a60b5"/></g>
<g id="node-kinetics"><circle cx="68" cy="996" r="8" fill="#efe23a"/></g>
<g id="node-solid-biofuel"><circle cx="358" cy="1130" r="8" fill="#5b50a6"/></g>
<g id="node-lca"><circle cx="580" cy="1277" r="8" fill="#f0e238"/></g>
<g id="node-coal"><circle cx="331" cy="543" r="8" fill="#55c36a"/></g>
<g id="node-ultrasonic"><circle cx="1456" cy="641" r="8" fill="#35a0a8"/></g>
<g id="node-tga"><circle cx="470" cy="311" r="7" fill="#7acc50"/></g>
<g id="node-bark"><circle cx="523" cy="736" r="7" fill="#3a9aa5"/></g>
</g>
<g id="labels">
<text x="774" y="665" font-size="62" textLength="252" lengthAdjust="spacingAndGlyphs">biomass</text>
<text x="559" y="625" font-size="50" textLength="152" lengthAdjust="spacingAndGlyphs">pellets</text>
<text x="511" y="556" font-size="47" textLength="118" lengthAdjust="spacingAndGlyphs">pellet</text>
<text x="668" y="487" font-size="44" textLength="255" lengthAdjust="spacingAndGlyphs">pelletization</text>
<text x="338" y="480" font-size="37" textLength="210" lengthAdjust="spacingAndGlyphs">combustion</text>
<text x="730" y="932" font-size="37" textLength="226" lengthAdjust="spacingAndGlyphs">wood pellets</text>
<text x="1285" y="602" font-size="35" textLength="146" lengthAdjust="spacingAndGlyphs">pelleting</text>
<text x="870" y="283" font-size="29" textLength="305" lengthAdjust="spacingAndGlyphs">energy consumption</text>
<text x="738" y="355" font-size="28" textLength="204" lengthAdjust="spacingAndGlyphs">biomass pellet</text>
<text x="165" y="833" font-size="32" textLength="135" lengthAdjust="spacingAndGlyphs">pyrolysis</text>
<text x="397" y="858" font-size="29" textLength="174" lengthAdjust="spacingAndGlyphs">wood pellet</text>
<text x="721" y="860" font-size="29" textLength="230" lengthAdjust="spacingAndGlyphs">biomass pellets</text>
<text x="657" y="797" font-size="28" textLength="194" lengthAdjust="spacingAndGlyphs">calorific value</text>
<text x="672" y="1235" font-size="31" textLength="272" lengthAdjust="spacingAndGlyphs">renewable energy</text>
<text x="741" y="1112" font-size="30" textLength="148" lengthAdjust="spacingAndGlyphs">bioenergy</text>
<text x="303" y="1050" font-size="27" textLength="160" lengthAdjust="spacingAndGlyphs">gasification</text>
<text x="1261" y="944" font-size="27" textLength="173" lengthAdjust="spacingAndGlyphs">temperature</text>
<text x="1112" y="956" font-size="28" textLength="100" lengthAdjust="spacingAndGlyphs">density</text>
<text x="544" y="927" font-size="26" textLength="90" lengthAdjust="spacingAndGlyphs">binder</text>
<text x="391" y="939" font-size="25" textLength="151" lengthAdjust="spacingAndGlyphs">particle size</text>
<text x="523" y="744" font-size="24" textLength="55" lengthAdjust="spacingAndGlyphs">bark</text>
<text x="70" y="1005" font-size="24" textLength="94" lengthAdjust="spacingAndGlyphs">kinetics</text>
<text x="359" y="1138" font-size="25" textLength="152" lengthAdjust="spacingAndGlyphs">solid biofuel</text>
<text x="653" y="1068" font-size="25" textLength="272" lengthAdjust="spacingAndGlyphs">life cycle assessment</text>
<text x="560" y="1179" font-size="25" textLength="201" lengthAdjust="spacingAndGlyphs">torrefied pellets</text>
<text x="581" y="1285" font-size="25" textLength="33" lengthAdjust="spacingAndGlyphs">lca</text>
<text x="355" y="780" font-size="28" textLength="170" lengthAdjust="spacingAndGlyphs">bulk density</text>
<text x="158" y="557" font-size="27" textLength="141" lengthAdjust="spacingAndGlyphs">emissions</text>
<text x="348" y="673" font-size="27" textLength="104" lengthAdjust="spacingAndGlyphs">biochar</text>
<text x="156" y="699" font-size="25" textLength="227" lengthAdjust="spacingAndGlyphs">particulate matter</text>
<text x="331" y="551" font-size="23" textLength="50" lengthAdjust="spacingAndGlyphs">coal</text>
<text x="162" y="376" font-size="25" textLength="95" lengthAdjust="spacingAndGlyphs">storage</text>
<text x="87" y="472" font-size="25" textLength="71" lengthAdjust="spacingAndGlyphs">wood</text>
<text x="225" y="227" font-size="25" textLength="82" lengthAdjust="spacingAndGlyphs">poplar</text>
<text x="325" y="240" font-size="25" textLength="67" lengthAdjust="spacingAndGlyphs">lignin</text>
<text x="470" y="319" font-size="25" textLength="343" lengthAdjust="spacingAndGlyphs" class="m">thermogravimetric analysis</text>
<text x="466" y="205" font-size="25" textLength="130" lengthAdjust="spacingAndGlyphs" class="m">hydrochar</text>
<text x="665" y="170" font-size="26" textLength="287" lengthAdjust="spacingAndGlyphs">mechanical properties</text>
<text x="763" y="106" font-size="26" textLength="240" lengthAdjust="spacingAndGlyphs" class="ff">physical properties</text>
<text x="621" y="95" font-size="26" textLength="195" lengthAdjust="spacingAndGlyphs">co-pelletization</text>
<text x="714" y="33" font-size="26" textLength="342" lengthAdjust="spacingAndGlyphs">combustion characteristics</text>
<text x="965" y="198" font-size="25" textLength="123" lengthAdjust="spacingAndGlyphs">rice straw</text>
<text x="1255" y="337" font-size="26" textLength="214" lengthAdjust="spacingAndGlyphs">pellet properties</text>
<text x="1358" y="305" font-size="24" textLength="47" lengthAdjust="spacingAndGlyphs" class="ff">fuel</text>
<text x="1258" y="395" font-size="26" textLength="369" lengthAdjust="spacingAndGlyphs" class="ff">specific energy consumption</text>
<text x="1051" y="377" font-size="25" textLength="159" lengthAdjust="spacingAndGlyphs">optimization</text>
<text x="797" y="415" font-size="25" textLength="105" lengthAdjust="spacingAndGlyphs">sawdust</text>
<text x="962" y="422" font-size="27" textLength="179" lengthAdjust="spacingAndGlyphs">pellet quality</text>
<text x="883" y="531" font-size="26" textLength="85" lengthAdjust="spacingAndGlyphs">quality</text>
<text x="1090" y="511" font-size="26" textLength="142" lengthAdjust="spacingAndGlyphs">corn stover</text>
<text x="744" y="568" font-size="27" textLength="142" lengthAdjust="spacingAndGlyphs">pelletizing</text>
<text x="1068" y="632" font-size="27" textLength="96" lengthAdjust="spacingAndGlyphs">biofuel</text>
<text x="1456" y="650" font-size="25" textLength="124" lengthAdjust="spacingAndGlyphs">ultrasonic</text>
<text x="1510" y="784" font-size="25" textLength="94" lengthAdjust="spacingAndGlyphs">ethanol</text>
<text x="1115" y="762" font-size="25" textLength="170" lengthAdjust="spacingAndGlyphs" class="ff">pellet density</text>
<text x="969" y="793" font-size="26" textLength="200" lengthAdjust="spacingAndGlyphs">pellet durability</text>
<text x="1091" y="837" font-size="26" textLength="183" lengthAdjust="spacingAndGlyphs">pellet strength</text>
<text x="1337" y="854" font-size="26" textLength="225" lengthAdjust="spacingAndGlyphs">cellulosic biomass</text>
<text x="1362" y="904" font-size="26" textLength="355" lengthAdjust="spacingAndGlyphs" class="f">ultrasonic vibration-assisted</text>
<text x="868" y="967" font-size="27" textLength="255" lengthAdjust="spacingAndGlyphs" class="ff">moisture content</text>
<text x="1006" y="944" font-size="24" textLength="108" lengthAdjust="spacingAndGlyphs" class="ff">strength</text>
</g>
<g id="legend">
<rect x="818" y="1248" width="738" height="112" rx="22" fill="#ffffff" stroke="#cfcfcf" stroke-width="2"/>
<rect x="840" y="1266" width="690" height="38" fill="url(#vir)" stroke="#666" stroke-width="2"/>
<g stroke="#666" stroke-width="1.5">
<line x1="875" y1="1290" x2="875" y2="1318"/>
<line x1="1082" y1="1290" x2="1082" y2="1318"/>
<line x1="1288" y1="1290" x2="1288" y2="1318"/>
<line x1="1495" y1="1290" x2="1495" y2="1318"/>
</g>
<text x="875" y="1346" class="lg">20</text>
<text x="1082" y="1346" class="lg">30</text>
<text x="1288" y="1346" class="lg">40</text>
<text x="1495" y="1346" class="lg">50</text>
</g>
</g>
</svg>
